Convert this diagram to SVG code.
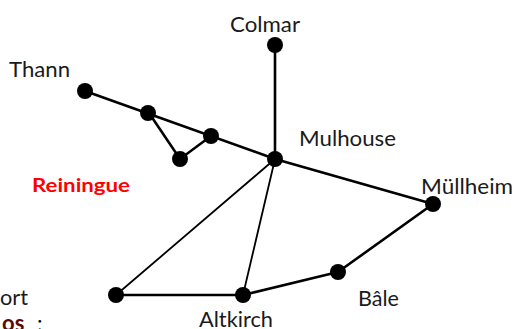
<svg xmlns="http://www.w3.org/2000/svg" width="516" height="329" viewBox="0 0 516 329">
<style>
text{font-family:Lato,"Open Sans","Liberation Sans",sans-serif;font-size:20.5px;fill:#1a1a1a}
.e{stroke:#000;stroke-width:2.6;fill:none}
.t{stroke-width:1.8}
.n{fill:#000}
</style>
<rect width="516" height="329" fill="#fff"/>
<g id="connectors">
<path class="e" d="M85 91L275 159M275 45V159M275 159L433 204M433 204L338 272M338 272L243 295M243 295H116M149 113L180 159L211 136"/>
<path class="e t" d="M275 159L116 295M275 159L243 295"/>
</g>
<g id="colmar"><circle class="n" cx="275" cy="45" r="8"/><text x="230" y="32" textLength="70" lengthAdjust="spacingAndGlyphs">Colmar</text></g>
<g id="thann"><circle class="n" cx="85" cy="91" r="8"/><text x="9" y="77" textLength="61" lengthAdjust="spacingAndGlyphs">Thann</text></g>
<g id="n1"><circle class="n" cx="148" cy="113" r="8"/></g>
<g id="n2"><circle class="n" cx="211" cy="136" r="8"/></g>
<g id="n3"><circle class="n" cx="180" cy="159" r="8"/></g>
<g id="mulhouse"><circle class="n" cx="275" cy="159" r="8"/><text x="299" y="146" textLength="97" lengthAdjust="spacingAndGlyphs">Mulhouse</text></g>
<g id="reiningue"><text x="32" y="192" textLength="98" lengthAdjust="spacingAndGlyphs" style="fill:#f00;font-weight:700;font-size:19.5px">Reiningue</text></g>
<g id="mullheim"><circle class="n" cx="433" cy="204" r="8"/><text x="421" y="194" textLength="92" lengthAdjust="spacingAndGlyphs">Müllheim</text></g>
<g id="bale"><circle class="n" cx="338" cy="272" r="8"/><text x="358" y="306" textLength="41" lengthAdjust="spacingAndGlyphs">Bâle</text></g>
<g id="altkirch"><circle class="n" cx="243" cy="295" r="8"/><text x="199" y="327" textLength="74" lengthAdjust="spacingAndGlyphs">Altkirch</text></g>
<g id="belfort"><circle class="n" cx="116" cy="295" r="8"/><text x="0" y="305" textLength="28" lengthAdjust="spacingAndGlyphs">ort</text></g>
<text x="2" y="331" style="font-weight:700;fill:#5a0a0a;font-size:22px">os<tspan x="37" style="fill:#000;font-weight:400">:</tspan></text>
</svg>
